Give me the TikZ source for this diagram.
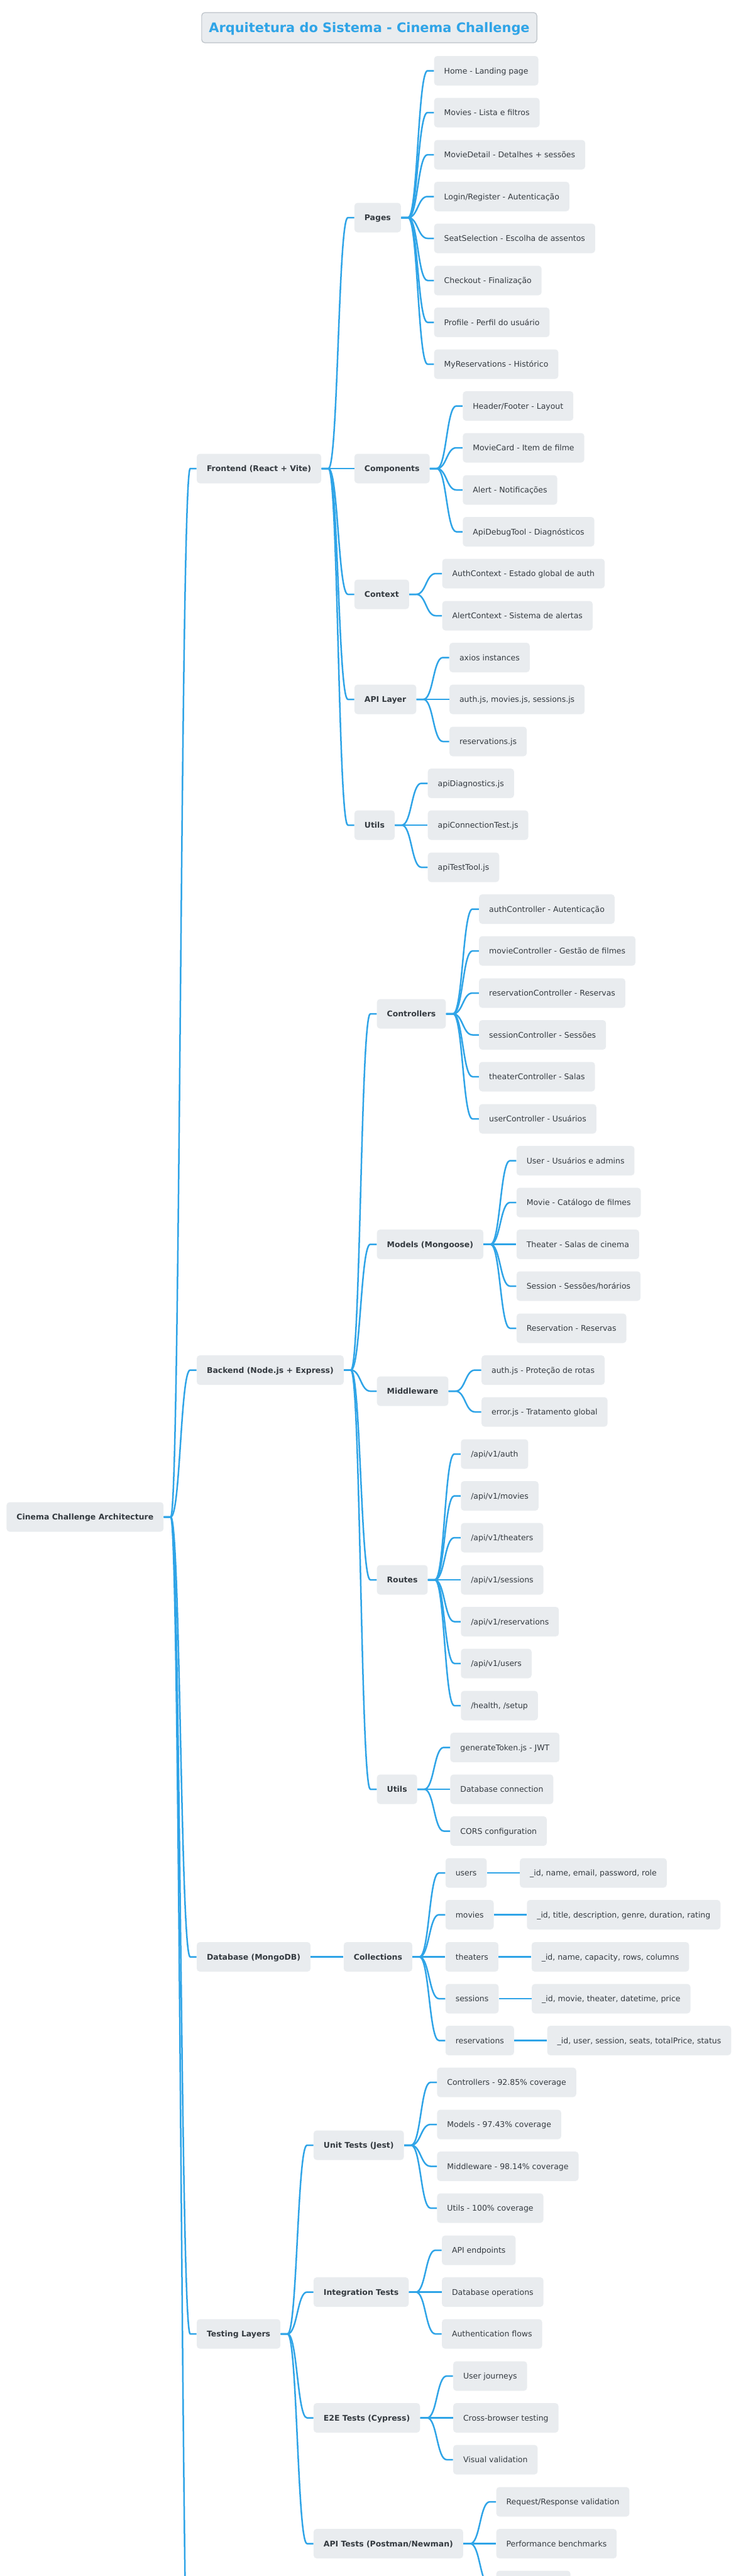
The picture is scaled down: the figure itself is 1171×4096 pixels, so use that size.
\documentclass[tikz,border=0pt]{standalone}
\usepackage{fontspec}
\setmainfont{DejaVu Sans}
\definecolor{mmline}{HTML}{2FA4E7}
\definecolor{mmfill}{HTML}{E9ECEF}
\definecolor{mmtext}{HTML}{343A40}
\definecolor{mmborder}{HTML}{BCC2C8}
\tikzset{
  mmbox/.style={rectangle, rounded corners=2.5pt, fill=mmfill, text=mmtext,
    minimum height=23.5pt, inner xsep=8pt, inner ysep=0pt,
    text height=4.54pt, text depth=0pt,
    font=\fontsize{6.225pt}{7.5pt}\selectfont},
  mmleaf/.style={mmbox},
  mmhead/.style={mmbox, font=\fontsize{6.225pt}{7.5pt}\selectfont\bfseries},
  mmtitle/.style={rectangle, rounded corners=2.5pt, fill=mmfill, draw=mmborder,
    line width=0.6pt, text=mmline, minimum height=24pt, inner xsep=5.75pt,
    inner ysep=0pt, text height=7.6pt, text depth=0pt,
    font=\fontsize{10.45pt}{12pt}\selectfont\bfseries},
  conn/.style={draw=mmline, line width=1.25pt, line join=round}
}
\newcommand\lnk[2]{\draw[conn] (#1.east) -- ([xshift=5.5pt]#1.east)
  .. controls ([xshift=13.25pt]#1.east) and ([xshift=-12.75pt]#2.west)
  .. ([xshift=-5pt]#2.west) -- (#2.west);}
\newcommand\kid[5][mmleaf]{\node[#1, anchor=west, xshift=26pt] (#2) at (#3.east |- 0,#4) {#5};
  \lnk{#3}{#2}}
\begin{document}
\begin{tikzpicture}[x=0.5pt,y=-0.5pt]
\useasboundingbox (0,0) rectangle (1171,4096);
\clip (0,0) rectangle (1171,4096);

\node[mmtitle] (title) at (587.5,44) {Arquitetura do Sistema - Cinema Challenge};

\node[mmhead, anchor=west] (root) at (10,2412) {Cinema Challenge Architecture};

% Frontend
\kid[mmhead]{fe}{root}{745}{Frontend (React + Vite)}
\kid[mmhead]{pages}{fe}{346}{Pages}
\kid{p1}{pages}{112.5}{Home - Landing page}
\kid{p2}{pages}{179}{Movies - Lista e filtros}
\kid{p3}{pages}{246}{MovieDetail - Detalhes + sessões}
\kid{p4}{pages}{312.5}{Login/Register - Autenticação}
\kid{p5}{pages}{379}{SeatSelection - Escolha de assentos}
\kid{p6}{pages}{446}{Checkout - Finalização}
\kid{p7}{pages}{512.5}{Profile - Perfil do usuário}
\kid{p8}{pages}{579}{MyReservations - Histórico}
\kid[mmhead]{comp}{fe}{745}{Components}
\kid{c1}{comp}{645.5}{Header/Footer - Layout}
\kid{c2}{comp}{712}{MovieCard - Item de filme}
\kid{c3}{comp}{779}{Alert - Notificações}
\kid{c4}{comp}{845.5}{ApiDebugTool - Diagnósticos}
\kid[mmhead]{ctx}{fe}{945}{Context}
\kid{x1}{ctx}{912}{AuthContext - Estado global de auth}
\kid{x2}{ctx}{979}{AlertContext - Sistema de alertas}
\kid[mmhead]{api}{fe}{1112}{API Layer}
\kid{a1}{api}{1045.5}{axios instances}
\kid{a2}{api}{1112}{auth.js, movies.js, sessions.js}
\kid{a3}{api}{1179}{reservations.js}
\kid[mmhead]{futils}{fe}{1312}{Utils}
\kid{u1}{futils}{1245.5}{apiDiagnostics.js}
\kid{u2}{futils}{1312}{apiConnectionTest.js}
\kid{u3}{futils}{1379}{apiTestTool.js}

% Backend
\kid[mmhead]{be}{root}{2178.5}{Backend (Node.js + Express)}
\kid[mmhead]{ctrl}{be}{1612}{Controllers}
\kid{k1}{ctrl}{1445.5}{authController - Autenticação}
\kid{k2}{ctrl}{1512}{movieController - Gestão de filmes}
\kid{k3}{ctrl}{1579}{reservationController - Reservas}
\kid{k4}{ctrl}{1645.5}{sessionController - Sessões}
\kid{k5}{ctrl}{1712}{theaterController - Salas}
\kid{k6}{ctrl}{1779}{userController - Usuários}
\kid[mmhead]{models}{be}{1978.5}{Models (Mongoose)}
\kid{m1}{models}{1845.5}{User - Usuários e admins}
\kid{m2}{models}{1912}{Movie - Catálogo de filmes}
\kid{m3}{models}{1978.5}{Theater - Salas de cinema}
\kid{m4}{models}{2045}{Session - Sessões/horários}
\kid{m5}{models}{2112}{Reservation - Reservas}
\kid[mmhead]{mw}{be}{2212}{Middleware}
\kid{w1}{mw}{2178.5}{auth.js - Proteção de rotas}
\kid{w2}{mw}{2245}{error.js - Tratamento global}
\kid[mmhead]{routes}{be}{2512}{Routes}
\kid{r1}{routes}{2312}{/api/v1/auth}
\kid{r2}{routes}{2378.5}{/api/v1/movies}
\kid{r3}{routes}{2445}{/api/v1/theaters}
\kid{r4}{routes}{2512}{/api/v1/sessions}
\kid{r5}{routes}{2578.5}{/api/v1/reservations}
\kid{r6}{routes}{2645}{/api/v1/users}
\kid{r7}{routes}{2712}{/health, /setup}
\kid[mmhead]{butils}{be}{2845}{Utils}
\kid{b1}{butils}{2778.5}{generateToken.js - JWT}
\kid{b2}{butils}{2845}{Database connection}
\kid{b3}{butils}{2911.5}{CORS configuration}

% Database
\kid[mmhead]{db}{root}{3111.5}{Database (MongoDB)}
\kid[mmhead]{coll}{db}{3111.5}{Collections}
\kid{d1}{coll}{2978}{users}
\kid{d1f}{d1}{2978}{\_id, name, email, password, role}
\kid{d2}{coll}{3044.5}{movies}
\kid{d2f}{d2}{3044.5}{\_id, title, description, genre, duration, rating}
\kid{d3}{coll}{3111.5}{theaters}
\kid{d3f}{d3}{3111.5}{\_id, name, capacity, rows, columns}
\kid{d4}{coll}{3178}{sessions}
\kid{d4f}{d4}{3178}{\_id, movie, theater, datetime, price}
\kid{d5}{coll}{3244.5}{reservations}
\kid{d5f}{d5}{3244.5}{\_id, user, session, seats, totalPrice, status}

% Testing
\kid[mmhead]{test}{root}{3711}{Testing Layers}
\kid[mmhead]{unit}{test}{3411}{Unit Tests (Jest)}
\kid{t1}{unit}{3311}{Controllers - 92.85\% coverage}
\kid{t2}{unit}{3378}{Models - 97.43\% coverage}
\kid{t3}{unit}{3444.5}{Middleware - 98.14\% coverage}
\kid{t4}{unit}{3511}{Utils - 100\% coverage}
\kid[mmhead]{integ}{test}{3644.5}{Integration Tests}
\kid{i1}{integ}{3578}{API endpoints}
\kid{i2}{integ}{3644.5}{Database operations}
\kid{i3}{integ}{3711}{Authentication flows}
\kid[mmhead]{e2e}{test}{3844.5}{E2E Tests (Cypress)}
\kid{e1}{e2e}{3778}{User journeys}
\kid{e2}{e2e}{3844.5}{Cross-browser testing}
\kid{e3}{e2e}{3911}{Visual validation}
\kid[mmhead]{apit}{test}{4044.5}{API Tests (Postman/Newman)}
\kid{s1}{apit}{3978}{Request/Response validation}
\kid{s2}{apit}{4044.5}{Performance benchmarks}
\kid[mmleaf, minimum width=59pt]{s3}{apit}{4111}{}

% branch continuing below the visible area
\coordinate (more) at (314,4430);
\draw[conn] (root.east) -- ([xshift=5.5pt]root.east)
  .. controls ([xshift=13.25pt]root.east) and ([xshift=-12.75pt]more)
  .. ([xshift=-5pt]more) -- (more);
\end{tikzpicture}
\end{document}
